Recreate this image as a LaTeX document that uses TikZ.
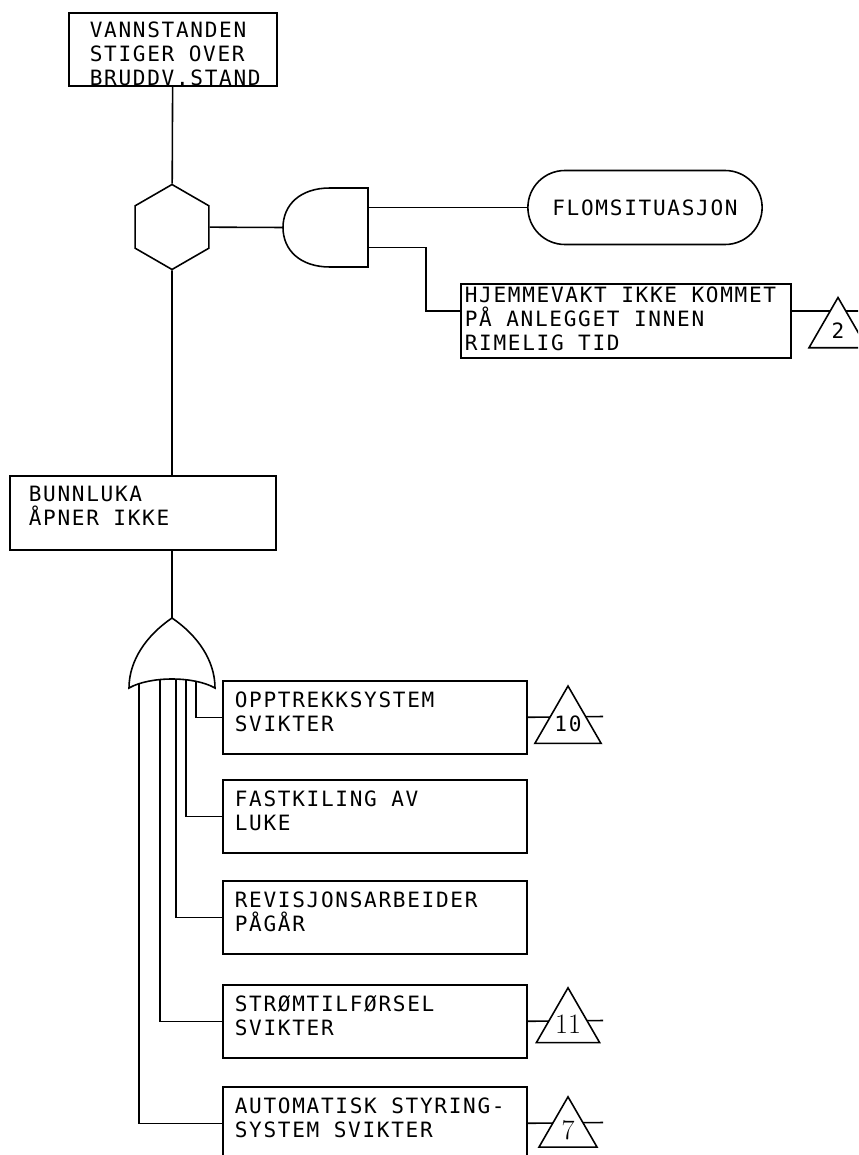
\documentclass[tikz,border=0pt]{standalone}
\usepackage{fontspec}
\usetikzlibrary{shapes.geometric,shapes.misc}
\newfontfamily\plotfont[LetterSpace=8]{DejaVu Sans Mono}
\newcommand{\plottext}{\plotfont\fontsize{12pt}{13.66pt}\selectfont}
\hyphenpenalty=10000
\tikzset{
  event/.style={draw,anchor=north west,align=left,font=\plottext,text height=0.3cm,
    execute at begin node={\spaceskip=8.2pt\relax}},
  basic/.style={event,inner xsep=0.24cm,inner ysep=0.24cm,text width=5.6cm,text depth=0.68cm},
  transfer/.style={draw,fill=white,regular polygon,regular polygon sides=3,minimum size=1.34cm,inner sep=0pt,font=\plottext},
  romannum/.style={font=\rmfamily\fontsize{16pt}{16pt}\selectfont},
  gate/.style={fill=white}
}
\begin{document}
\begin{tikzpicture}[x=0.02cm,y=-0.02cm,line width=0.9pt]
  \useasboundingbox (0,0) rectangle (858,1155);
  \clip (0,0) rectangle (858,1155);
  % upper part
  \node[event,inner xsep=0.42cm,inner ysep=0.2cm,text width=3.32cm,text depth=0.76cm] (top) at (68,12)
    {VANNSTANDEN\\STIGER OVER\\BRUDDV.STAND};
  \node[draw,regular polygon,regular polygon sides=6,rotate=30,minimum size=1.7cm,inner sep=0pt] (hex) at (172,227) {};
  \node[draw,rounded rectangle,minimum width=4.92cm,minimum height=1.48cm,font=\plottext] (flom) at (645,207.5) {FLOMSITUASJON};
  \node[event,inner xsep=0.08cm,inner ysep=0.08cm,text width=6.44cm,text depth=1.02cm] (hjem) at (460,283)
    {HJEMMEVAKT IKKE KOMMET\\PÅ ANLEGGET INNEN\\RIMELIG TID};
  \node[event,inner xsep=0.38cm,inner ysep=0.22cm,text width=4.56cm,text depth=0.74cm] (bunn) at (9,475)
    {BUNNLUKA\\ÅPNER IKKE};

  \coordinate (andout) at (283,227.5);
  \coordinate (andin1) at (368,207.5);
  \coordinate (andin2) at (368,247.5);
  \coordinate (hjin) at ([yshift=-0.56cm]hjem.north west);
  \coordinate (hjout) at ([yshift=-0.56cm]hjem.north east);
  \coordinate (e2) at (870,311);

  \draw (top) -- (hex);
  \draw (hex) -- (andout);
  \draw (hex) -- (hex |- bunn.north);
  \draw (andin1) -- (flom);
  \draw (andin2) -- ++(58,0) |- (hjin);
  \draw (hjout) -- (e2);
  \draw[gate] (368,188) -- (330,188) .. controls (300,188) and (283,205) .. (andout)
    .. controls (283,250) and (300,267) .. (330,267) -- (368,267) -- cycle;
  \node[transfer] (t2) at (838,331) {2};

  % lower part
  \node[basic] (opp) at (222,680) {OPPTREKKSYSTEM\\SVIKTER};
  \node[basic] (fast) at (222,779) {FASTKILING AV\\LUKE};
  \node[basic] (rev) at (222,880) {REVISJONSARBEIDER\\PÅGÅR};
  \node[basic] (strom) at (222,984) {STRØMTILFØRSEL\\SVIKTER};
  \node[basic] (auto) at (222,1086) {AUTOMATISK STYRING-\\SYSTEM SVIKTER};

  \coordinate (orout) at (172,618);
  \coordinate (or1) at (196,676);
  \coordinate (or2) at (186,676);
  \coordinate (or3) at (176,676);
  \coordinate (or4) at (160,676);
  \coordinate (or5) at (139,676);
  \coordinate (e10) at (603,716.5);
  \coordinate (e11) at (603,1020.5);
  \coordinate (e7) at (603,1122.5);

  \draw (hex |- bunn.south) -- (orout);
  \draw (or1) |- (opp.west);
  \draw (or2) |- (fast.west);
  \draw (or3) |- (rev.west);
  \draw (or4) |- (strom.west);
  \draw (or5) |- (auto.west);
  \draw[gate] (orout) .. controls (147,635) and (129,660) .. (129,688)
    .. controls (150,676) and (194,676) .. (215,688)
    .. controls (215,660) and (197,635) .. (orout) -- cycle;

  \draw (opp.east) -- (e10);
  \draw (strom.east) -- (e11);
  \draw (auto.east) -- (e7);
  \node[transfer] (t10) at (568,724.3) {10};
  \node[transfer,romannum] (t11) at (568,1024.3) {11};
  \node[transfer,romannum] (t7) at (568,1130.3) {7};
\end{tikzpicture}
\end{document}
